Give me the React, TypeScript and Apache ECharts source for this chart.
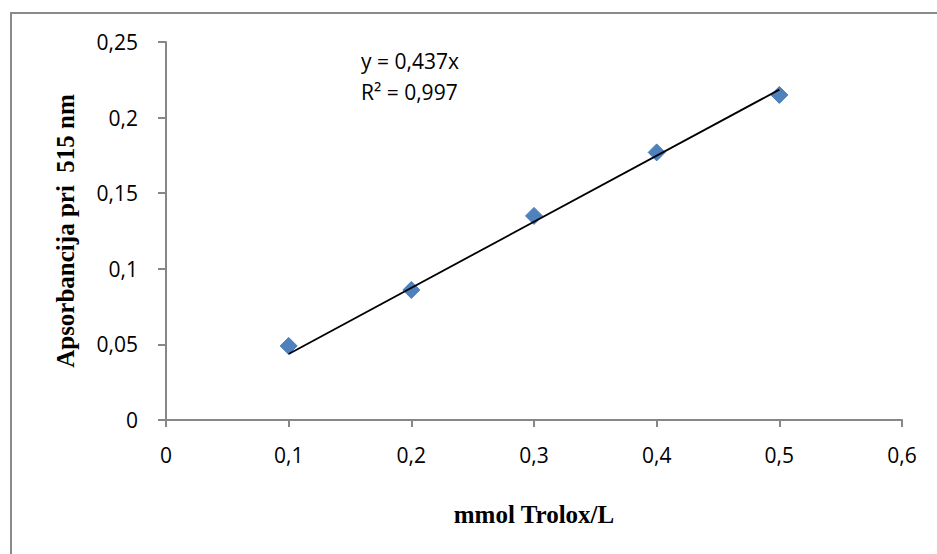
import React, { useEffect, useRef } from "react";
import * as echarts from "echarts";

const xValues = [0.1, 0.2, 0.3, 0.4, 0.5];
const yValues = [0.049, 0.086, 0.135, 0.177, 0.215];
const slope = 0.437;
const trendX = [0.1, 0.5];
const equationLines = ["y = 0,437x", "R² = 0,997"];
const xTitle = "mmol Trolox/L";
const yTitle = "Apsorbancija pri  515 nm";

const fmt = (v: number) => String(parseFloat(v.toFixed(2))).replace(".", ",");

export default function App() {
  const ref = useRef<HTMLDivElement>(null);
  useEffect(() => {
    if (!ref.current) return;
    const chart = echarts.init(ref.current, null, { renderer: "svg" });
    const axisColor = "#878787";
    const labelFont = { fontFamily: "Open Sans", fontSize: 21, color: "#000" };
    const titleFont = { fontFamily: "Liberation Serif", fontWeight: "bold", fontSize: 25, color: "#000" };
    chart.setOption({
      animation: false,
      backgroundColor: "#fff",
      grid: { left: 166, top: 42, right: 35, bottom: 134 },
      xAxis: {
        type: "value",
        min: 0,
        max: 0.6,
        interval: 0.1,
        name: xTitle,
        nameLocation: "middle",
        nameGap: 82,
        nameTextStyle: titleFont,
        axisLine: { show: true, lineStyle: { color: axisColor, width: 2 } },
        axisTick: { show: true, length: 7, lineStyle: { color: axisColor, width: 2 } },
        splitLine: { show: false },
        axisLabel: { ...labelFont, margin: 24, formatter: (v: number) => fmt(v) },
      },
      yAxis: {
        type: "value",
        min: 0,
        max: 0.25,
        interval: 0.05,
        name: yTitle,
        nameLocation: "middle",
        nameGap: 88,
        nameRotate: 90,
        nameTextStyle: titleFont,
        axisLine: { show: true, lineStyle: { color: axisColor, width: 2 } },
        axisTick: { show: true, length: 8, lineStyle: { color: axisColor, width: 2 } },
        splitLine: { show: false },
        axisLabel: { ...labelFont, margin: 28, formatter: (v: number) => fmt(v) },
      },
      graphic: [
        {
          type: "rect",
          shape: { x: 11, y: 13, width: 940, height: 560 },
          style: { fill: "none", stroke: "#8a8a8a", lineWidth: 2 },
          silent: true,
        },
        {
          type: "text",
          left: 361,
          top: 50,
          style: { text: equationLines[0], fontFamily: "Open Sans", fontSize: 21, fill: "#000" },
        },
        {
          type: "text",
          left: 361,
          top: 81,
          style: { text: equationLines[1], fontFamily: "Open Sans", fontSize: 21, fill: "#000" },
        },
      ],
      series: [
        {
          type: "scatter",
          symbol: "diamond",
          symbolSize: 17,
          itemStyle: { color: "#4F81BD", borderColor: "#4A7EBB", borderWidth: 1, opacity: 1 },
          data: xValues.map((x, i) => [x, yValues[i]]),
          z: 2,
        },
        {
          type: "line",
          showSymbol: false,
          symbol: "none",
          lineStyle: { color: "#000", width: 1.8 },
          data: trendX.map((x) => [x, slope * x]),
          z: 3,
        },
      ],
    });
    return () => chart.dispose();
  }, []);
  return (
    <div
      ref={ref}
      style={{ position: "absolute", left: 0, top: 0, width: 937, height: 554 }}
    />
  );
}
